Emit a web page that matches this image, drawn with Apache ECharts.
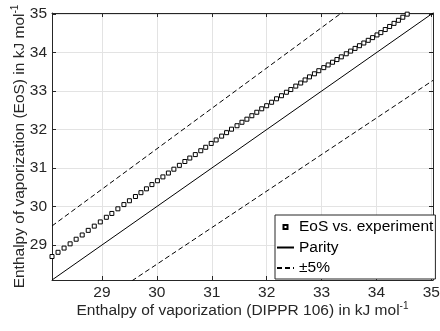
<!DOCTYPE html>
<html>
<head>
<meta charset="utf-8">
<script src="https://cdn.jsdelivr.net/npm/echarts@6/dist/echarts.min.js"></script>
<style>html,body{margin:0;padding:0;background:#fff}#c{width:440px;height:331px}</style>
</head>
<body>
<div id="c"></div>
<script>
// DIPPR 106 enthalpy of vaporization (x) vs EoS result (y), kJ/mol
const dipprX = [28.09,28.20,28.31,28.42,28.53,28.64,28.75,28.86,28.97,29.08,
  29.18,29.29,29.40,29.50,29.61,29.71,29.81,29.91,30.01,30.11,
  30.21,30.31,30.41,30.51,30.60,30.70,30.80,30.89,30.99,31.08,
  31.18,31.27,31.36,31.46,31.55,31.64,31.73,31.82,31.91,32.00,
  32.09,32.18,32.27,32.36,32.44,32.53,32.62,32.70,32.78,32.87,
  32.95,33.04,33.12,33.20,33.28,33.36,33.45,33.53,33.61,33.69,
  33.77,33.85,33.93,34.01,34.08,34.16,34.24,34.32,34.40,34.48,34.56];
const eosY = [28.70,28.81,28.92,29.03,29.15,29.26,29.38,29.49,29.60,29.72,
  29.82,29.94,30.05,30.15,30.26,30.36,30.46,30.57,30.67,30.77,
  30.87,30.97,31.07,31.17,31.26,31.35,31.45,31.54,31.64,31.73,
  31.83,31.92,32.01,32.10,32.19,32.27,32.36,32.45,32.54,32.62,
  32.71,32.80,32.88,32.97,33.04,33.13,33.21,33.29,33.37,33.45,
  33.53,33.61,33.68,33.75,33.82,33.89,33.97,34.04,34.11,34.18,
  34.25,34.32,34.39,34.46,34.52,34.60,34.68,34.76,34.84,34.92,35.00];
const axisRange = [28.09, 35.03];
const parityX = [28.09, 35.03];
const bandPercent = 5;
const seriesNames = ['EoS vs. experiment', 'Parity', '\u00b15%'];

const FONT = 'Liberation Sans, Arial, Helvetica, sans-serif';
const TXT = '#262626';
const FS = 15.5;
const eosData = dipprX.map((x, i) => [x, eosY[i]]);
const parityData = parityX.map(x => [x, x]);
const upperData = parityX.map(x => [x, x * (1 + bandPercent / 100)]);
const lowerData = parityX.map(x => [x, x * (1 - bandPercent / 100)]);

const nameRich = {
  a: { fontSize: FS, fontFamily: FONT, color: TXT },
  s: { fontSize: 10, fontFamily: FONT, color: TXT, verticalAlign: 'top', padding: [0, 0, 9, 0] }
};
function mainAxis(pos, name, gap) {
  return {
    type: 'value', position: pos, min: axisRange[0], max: axisRange[1],
    minInterval: 1, maxInterval: 1, splitNumber: 7,
    name: name, nameLocation: 'middle', nameGap: gap, nameMoveOverlap: false,
    nameTextStyle: { rich: nameRich },
    axisLine: { show: true, onZero: false, lineStyle: { color: TXT, width: 1 } },
    axisTick: { show: true, inside: true, length: 4, lineStyle: { color: TXT } },
    axisLabel: { show: true, showMinLabel: false, margin: 5, fontSize: FS, fontFamily: FONT, color: TXT },
    splitLine: { show: true, lineStyle: { color: '#e3e3e3', width: 1 } }
  };
}
function boxAxis(pos) {
  return {
    type: 'value', position: pos, min: axisRange[0], max: axisRange[1],
    minInterval: 1, maxInterval: 1, splitNumber: 7,
    axisLine: { show: true, onZero: false, lineStyle: { color: TXT, width: 1 } },
    axisTick: { show: true, inside: true, length: 4, lineStyle: { color: TXT } },
    axisLabel: { show: false }, splitLine: { show: false }
  };
}
const xName = mainAxis('bottom', '{a|Enthalpy of vaporization (DIPPR 106) in kJ mol}{s|-1}', 21);
const yName = mainAxis('left', '{a|Enthalpy of vaporization (EoS) in kJ mol}{s|-1}', 23);
yName.nameRotate = 90;

const chart = echarts.init(document.getElementById('c'), null, { renderer: 'canvas' });
chart.setOption({
  animation: false,
  backgroundColor: '#fff',
  grid: { left: 52, right: 7, top: 13, bottom: 51, containLabel: false, outerBoundsMode: 'none' },
  xAxis: [xName, boxAxis('top')],
  yAxis: [yName, boxAxis('right')],
  legend: {
    data: seriesNames,
    orient: 'vertical', left: 275, top: 215,
    padding: [4, 2, 3, 1], itemGap: 4.5, itemWidth: 17, itemHeight: 5, itemTextGap: 2,
    backgroundColor: '#fff', borderColor: TXT, borderWidth: 1, borderRadius: 0,
    textStyle: { fontSize: FS, fontFamily: FONT, color: '#000' }
  },
  series: [
    { name: seriesNames[0], type: 'line', data: eosData, symbol: 'rect', symbolSize: 4, showSymbol: true,
      lineStyle: { width: 0, opacity: 0 }, itemStyle: { color: '#fff', borderColor: '#000', borderWidth: 1 }, z: 5 },
    { name: seriesNames[1], type: 'line', data: parityData, symbol: 'circle', showSymbol: false, clip: true,
      lineStyle: { color: '#000', width: 1 }, itemStyle: { color: '#000', opacity: 0 } },
    { name: seriesNames[2], type: 'line', data: upperData, symbol: 'circle', showSymbol: false, clip: true,
      lineStyle: { color: '#000', width: 1, type: [5, 3] }, itemStyle: { color: '#000', opacity: 0 } },
    { name: seriesNames[2], type: 'line', data: lowerData, symbol: 'circle', showSymbol: false, clip: true,
      lineStyle: { color: '#000', width: 1, type: [5, 3] }, itemStyle: { color: '#000', opacity: 0 } }
  ]
});
</script>
</body>
</html>
